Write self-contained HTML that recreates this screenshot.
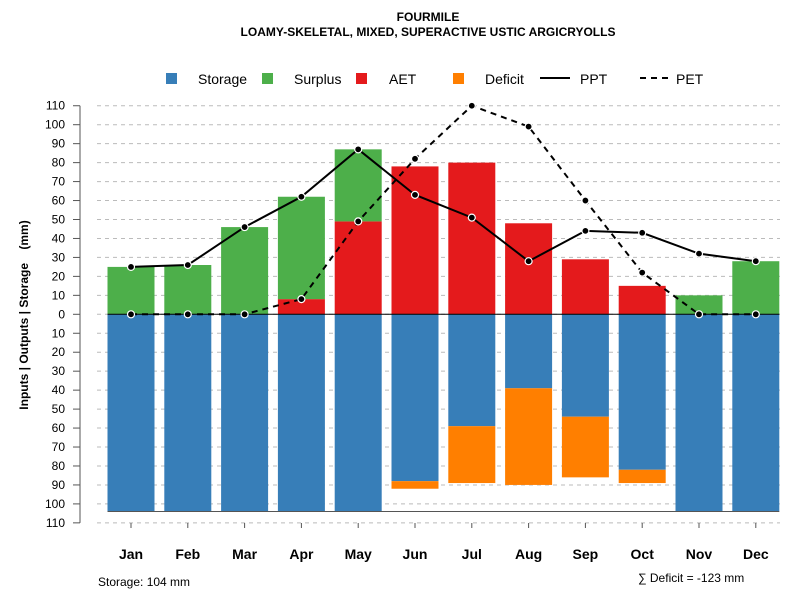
<!DOCTYPE html>
<html><head><meta charset="utf-8"><style>
body{margin:0;background:#fff;font-family:"Liberation Sans",sans-serif}
svg text{font-family:"Liberation Sans",sans-serif}
</style></head><body>
<svg id="c" width="800" height="600" xmlns="http://www.w3.org/2000/svg">
<text x="428" y="21" text-anchor="middle" font-size="12" font-weight="bold">FOURMILE</text>
<text x="428" y="36" text-anchor="middle" font-size="12" font-weight="bold">LOAMY-SKELETAL, MIXED, SUPERACTIVE USTIC ARGICRYOLLS</text>
<g id="legend">
<g><rect x="166" y="73" width="11" height="11" fill="#377EB8"/><text x="198" y="84" font-size="14">Storage</text></g>
<g><rect x="262" y="73" width="11" height="11" fill="#4DAF4A"/><text x="294" y="84" font-size="14">Surplus</text></g>
<g><rect x="356" y="73" width="11" height="11" fill="#E41A1C"/><text x="389" y="84" font-size="14">AET</text></g>
<g><rect x="453" y="73" width="11" height="11" fill="#FF7F00"/><text x="485" y="84" font-size="14">Deficit</text></g>
<g><line x1="540" y1="78" x2="570" y2="78" stroke="#000" stroke-width="2"/><text x="580" y="84" font-size="14">PPT</text></g>
<g><line x1="640" y1="78" x2="670" y2="78" stroke="#000" stroke-width="2" stroke-dasharray="6,5"/><text x="676" y="84" font-size="14">PET</text></g>
</g>
<g id="grid"></g><g id="bars"></g><g id="lines"></g><g id="axes"></g>
<text transform="translate(28,315) rotate(-90)" text-anchor="middle" font-size="12" font-weight="bold">Inputs | Outputs | Storage&#160;&#160;&#160;&#160;(mm)</text>
<text x="98" y="586" font-size="12">Storage: 104 mm</text>
<text x="638" y="582" font-size="12">∑ Deficit = -123 mm</text>
</svg>
<script>
const months=["Jan","Feb","Mar","Apr","May","Jun","Jul","Aug","Sep","Oct","Nov","Dec"];
const surplus=[25,26,46,54,38,0,0,0,0,0,10,28];
const aet=[0,0,0,8,49,78,80,48,29,15,0,0];
const storage=[104,104,104,104,104,88,59,39,54,82,104,104];
const deficit=[0,0,0,0,0,4,30,51,32,7,0,0];
const ppt=[25,26,46,62,87,63,51,28,44,43,32,28];
const pet=[0,0,0,8,49,82,110,99,60,22,0,0];
const yTicks=[110,100,90,80,70,60,50,40,30,20,10,0,10,20,30,40,50,60,70,80,90,100,110];
const NS="http://www.w3.org/2000/svg";
const y=v=>314.3-v*1.896;
const x=i=>131+i*56.8;
const bw=47;
function mk(t,a,p){const e=document.createElementNS(NS,t);for(const k in a)e.setAttribute(k,a[k]);document.getElementById(p).appendChild(e);return e;}
yTicks.forEach((t,i)=>{const v=110-i*10;
 let g=mk("line",{x1:97,x2:780,y1:y(v),y2:y(v),stroke:"#bbb","stroke-dasharray":"4,4"},"grid");
 
 
 mk("line",{x1:73,x2:80,y1:y(v),y2:y(v),stroke:"#555"},"axes");
 let tx=mk("text",{x:65,y:y(v)+4,"text-anchor":"end","font-size":12},"axes");tx.textContent=t;
 
 
});
mk("line",{x1:80,x2:80,y1:y(110),y2:y(-110),stroke:"#555"},"axes");
months.forEach((m,i)=>{const cx=x(i),l=cx-bw/2;
 const r=(v0,v1,c,n)=>{if(v1===v0)return;const e=mk("rect",{x:l,width:bw,y:y(Math.max(v0,v1)),height:Math.abs(y(v0)-y(v1)),fill:c},"bars");
  
  };
 r(0,-storage[i],"#377EB8","storage");
 r(-storage[i],-storage[i]-deficit[i],"#FF7F00","deficit");
 r(0,aet[i],"#E41A1C","aet");
 r(aet[i],aet[i]+surplus[i],"#4DAF4A","surplus");
 mk("line",{x1:cx,x2:cx,y1:523,y2:528,stroke:"#555"},"axes");
 let t=mk("text",{x:cx,y:559,"text-anchor":"middle","font-size":14,"font-weight":"bold"},"axes");t.textContent=m;
 
 
});
mk("line",{x1:x(0)-bw/2,x2:x(11)+bw/2,y1:y(0),y2:y(0),stroke:"#000"},"bars");
mk("line",{x1:x(0)-bw/2,x2:x(11)+bw/2,y1:y(-104),y2:y(-104),stroke:"#555"},"bars");
[[ppt,"","ppt"],[pet,"6,5","pet"]].forEach(([d,da,n])=>{
 const p=mk("polyline",{points:d.map((v,i)=>x(i)+","+y(v)).join(" "),fill:"none",stroke:"#000","stroke-width":2,"stroke-dasharray":da},"lines");
 
 
 d.forEach((v,i)=>{const c=mk("circle",{cx:x(i),cy:y(v),r:3.5,fill:"#000",stroke:"#fff","stroke-width":1.2},"lines");
  
  });
});
</script>
</body></html>
